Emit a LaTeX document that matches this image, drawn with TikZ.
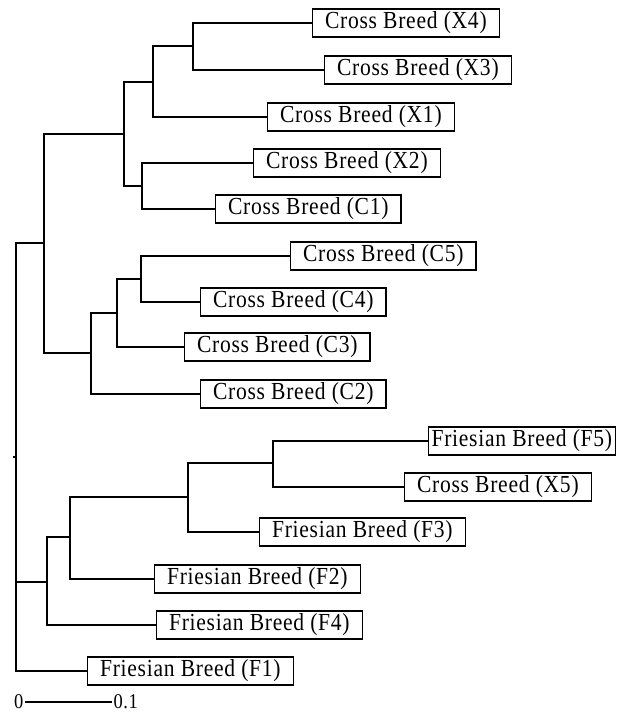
\documentclass[tikz,border=0pt]{standalone}
\usepackage{fontspec}
\setmainfont[FakeStretch=0.88,LetterSpace=3]{Liberation Serif}

\begin{document}
\begin{tikzpicture}[x=1pt,y=-1pt,line width=1.1pt,
  leaf/.style={draw,anchor=west,inner xsep=12.5pt,inner ysep=0pt,minimum height=28pt,
               font=\fontsize{24.5}{28}\selectfont},
  scalelabel/.style={inner sep=1pt,font=\fontsize{21}{24}\selectfont}]
\useasboundingbox (0,0) rectangle (624,715);

%% leaves
\foreach \name/\x/\y/\txt in {X4/312/23/Cross Breed (X4),X3/324/70/Cross Breed (X3),
    X1/267/117/Cross Breed (X1),X2/253/163/Cross Breed (X2),C1/215/209/Cross Breed (C1),
    C5/290/256/Cross Breed (C5),C4/200/302/Cross Breed (C4),C3/184/347/Cross Breed (C3),
    C2/200/394/Cross Breed (C2),X5/404/487/Cross Breed (X5),F3/259/532/Friesian Breed (F3),
    F2/154/579/Friesian Breed (F2),F4/156/625/Friesian Breed (F4),F1/87/671/Friesian Breed (F1)}
  \node[leaf] (\name) at (\x,\y) {\txt};
\node[leaf,inner xsep=3pt] (F5) at (428,441) {Friesian Breed (F5)};

%% joints
\foreach \name/\x/\y in {a/193/46,b/153/82,c/142/186,d/124/134,e/141/279,f/117/313,
    g/91/353,h/44/243,i/273/463,j/188/497,k/70/537,l/47/582,root/16/457}
  \coordinate (\name) at (\x,\y);

%% branches
\foreach \from/\to in {a/X4.west,a/X3.west,b/a,b/X1.west,c/X2.west,c/C1.west,d/b,d/c,
    e/C5.west,e/C4.west,f/e,f/C3.west,g/f,g/C2.west,h/d,h/g,
    i/F5.west,i/X5.west,j/i,j/F3.west,k/j,k/F2.west,l/k,l/F4.west,
    root/h,root/l,root/F1.west}
  \draw (\from) |- (\to);
\draw (root) -- ++(-3,0);

%% scale bar
\node[scalelabel,anchor=east] (s0) at (25,702) {0};
\node[scalelabel,anchor=west] (s1) at (112,702) {0.1};
\draw (s0.east) -- (s1.west);
\end{tikzpicture}
\end{document}
